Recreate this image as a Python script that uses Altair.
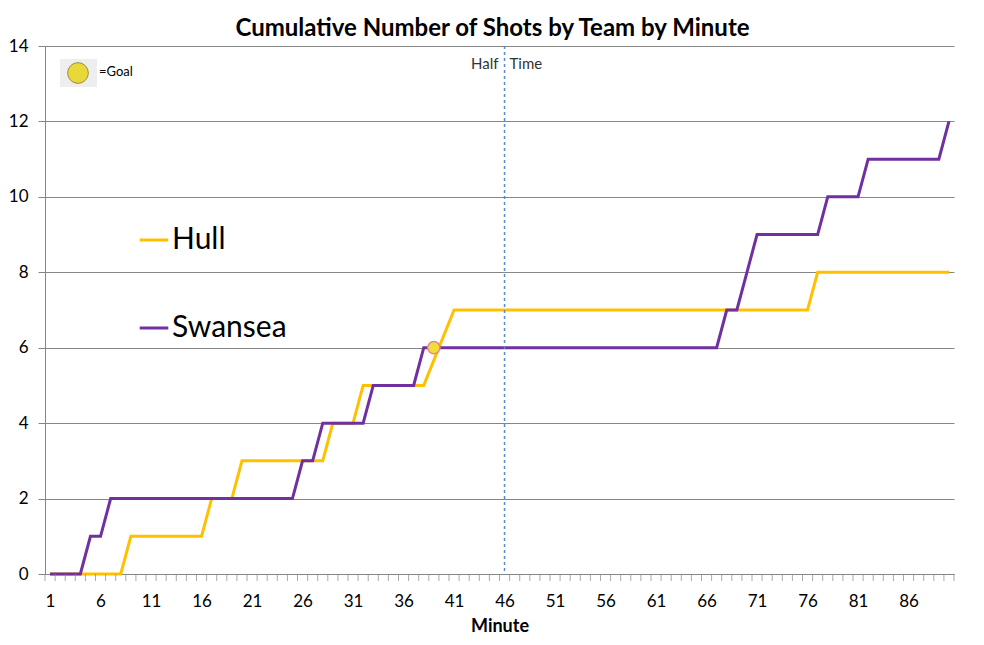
import altair as alt
import pandas as pd

# ---------------- data ----------------
MINUTES = list(range(1, 91))
TEAMS = ["Hull", "Swansea"]
COLORS = ["#FFC000", "#7030A0"]

# cumulative shots per minute (None = no value plotted for that minute)
HULL = [0, 0, 0, 0, 0, 0, 0, 0, 1, 1,
        1, 1, 1, 1, 1, 1, 2, 2, 2, 3,
        3, 3, 3, 3, 3, 3, 3, 3, 4, 4,
        4, 5, 5, 5, 5, 5, 5, 5, None, None,
        7, 7, 7, 7, 7, 7, 7, 7, 7, 7,
        7, 7, 7, 7, 7, 7, 7, 7, 7, 7,
        7, 7, 7, 7, 7, 7, 7, 7, 7, 7,
        7, 7, 7, 7, 7, 7, 8, 8, 8, 8,
        8, 8, 8, 8, 8, 8, 8, 8, 8, 8]
SWANSEA = [0, 0, 0, 0, 1, 1, 2, 2, 2, 2,
           2, 2, 2, 2, 2, 2, 2, 2, 2, 2,
           2, 2, 2, 2, 2, 3, 3, 4, 4, 4,
           4, 4, 5, 5, 5, 5, 5, 6, 6, 6,
           6, 6, 6, 6, 6, 6, 6, 6, 6, 6,
           6, 6, 6, 6, 6, 6, 6, 6, 6, 6,
           6, 6, 6, 6, 6, 6, 6, 7, 7, 8,
           9, 9, 9, 9, 9, 9, 9, 10, 10, 10,
           10, 11, 11, 11, 11, 11, 11, 11, 11, 12]

GOAL_MINUTES = [39]
GOAL_SHOTS = [6]
HALF_TIME = 46
X_LABELS = [1, 6, 11, 16, 21, 26, 31, 36, 41, 46, 51, 56, 61, 66, 71, 76, 81, 86]
Y_TICKS = [0, 2, 4, 6, 8, 10, 12, 14]

rows = []
for team, series in zip(TEAMS, [HULL, SWANSEA]):
    for m, v in zip(MINUTES, series):
        if v is not None:
            rows.append({"minute": m, "shots": v, "team": team})
df = pd.DataFrame(rows)
goals = pd.DataFrame({"minute": GOAL_MINUTES, "shots": GOAL_SHOTS})
# category boundaries, where the minute tick marks sit
bounds = pd.DataFrame({"minute": [m - 0.5 for m in MINUTES] + [MINUTES[-1] + 0.5]})

FONT = "Lato"
GRID = "#868686"
PLOT_W, PLOT_H = 909, 528

x_scale = alt.Scale(domain=[MINUTES[0] - 0.5, MINUTES[-1] + 0.5], nice=False, zero=False)
y_scale = alt.Scale(domain=[Y_TICKS[0], Y_TICKS[-1]], nice=False)

x_axis = alt.Axis(
    values=X_LABELS,
    format="d",
    ticks=False,
    labelPadding=19,
    labelOverlap=False,
    labelFlush=False,
    grid=False,
    domainColor=GRID,
    labelFont=FONT,
    labelFontSize=17,
    labelColor="black",
    titleFont=FONT,
    titleFontSize=18,
    titleFontWeight="bold",
    titleColor="black",
    titlePadding=8,
    title="Minute",
)
y_axis = alt.Axis(
    values=Y_TICKS,
    grid=True,
    gridColor=GRID,
    domainColor=GRID,
    tickColor=GRID,
    tickSize=7,
    labelPadding=10,
    labelFont=FONT,
    labelFontSize=17,
    labelColor="black",
    title=None,
)

X = alt.X("minute:Q", scale=x_scale, axis=x_axis)
Y = alt.Y("shots:Q", scale=y_scale, axis=y_axis)

lines = alt.Chart(df).mark_line(strokeWidth=3).encode(
    x=X,
    y=Y,
    color=alt.Color(
        "team:N",
        scale=alt.Scale(domain=TEAMS, range=COLORS),
        legend=alt.Legend(
            orient="none",
            legendX=93,
            legendY=178,
            title=None,
            symbolType="stroke",
            symbolSize=818,
            symbolStrokeWidth=3,
            labelFont=FONT,
            labelFontSize=30,
            labelColor="black",
            labelLimit=300,
            labelOffset=2,
            rowPadding=57,
            padding=0,
        ),
    ),
    order=alt.Order("minute:Q"),
)

minute_ticks = alt.Chart(bounds).mark_tick(
    orient="vertical", color=GRID, thickness=1, size=7
).encode(x=X, y=alt.value(PLOT_H + 3.5))

half_df = pd.DataFrame({"minute": [HALF_TIME]})
half = alt.Chart(half_df).mark_rule(
    color="#5b8ac6", strokeDash=[3, 3], strokeWidth=1.5
).encode(x=X)

half_l = alt.Chart(half_df).mark_text(
    text="Half", align="right", baseline="middle", dx=-6, font=FONT, fontSize=15, color="#333333"
).encode(x=X, y=alt.value(18))
half_r = alt.Chart(half_df).mark_text(
    text="Time", align="left", baseline="middle", dx=5, font=FONT, fontSize=15, color="#333333"
).encode(x=X, y=alt.value(18))

goal_pts = alt.Chart(goals).mark_point(
    shape="circle", filled=True, size=150, fill="#f0dc3a", stroke="#e08a8a", strokeWidth=1.5, opacity=1
).encode(x=X, y=Y)

key_df = pd.DataFrame({"label": ["=Goal"]})
key_box = alt.Chart(key_df).mark_rect(color="#eeeeee").encode(
    x=alt.value(15), x2=alt.value(52), y=alt.value(13), y2=alt.value(41)
)
key_ball = alt.Chart(key_df).mark_point(
    shape="circle", filled=True, size=430, fill="#e9d83a", stroke="#9a8f40", strokeWidth=1, opacity=1
).encode(x=alt.value(33), y=alt.value(27))
key_text = alt.Chart(key_df).mark_text(
    align="left", baseline="middle", font=FONT, fontSize=13, color="black"
).encode(x=alt.value(54), y=alt.value(26), text="label:N")

chart = alt.layer(lines, minute_ticks, half, goal_pts, half_l, half_r, key_box, key_ball, key_text).properties(
    width=PLOT_W,
    height=PLOT_H,
    autosize=alt.AutoSizeParams(type="none"),
    padding={"left": 37, "top": 38, "right": 20, "bottom": 62},
    title=alt.TitleParams(
        "Cumulative Number of Shots by Team by Minute",
        font=FONT,
        fontSize=24,
        fontWeight="bold",
        color="black",
        anchor="middle",
        dx=-7,
        dy=12,
        offset=8,
    ),
    background="white",
).configure_view(stroke="transparent")

chart.save("out.html", embed_options={"renderer": "svg", "actions": False})
